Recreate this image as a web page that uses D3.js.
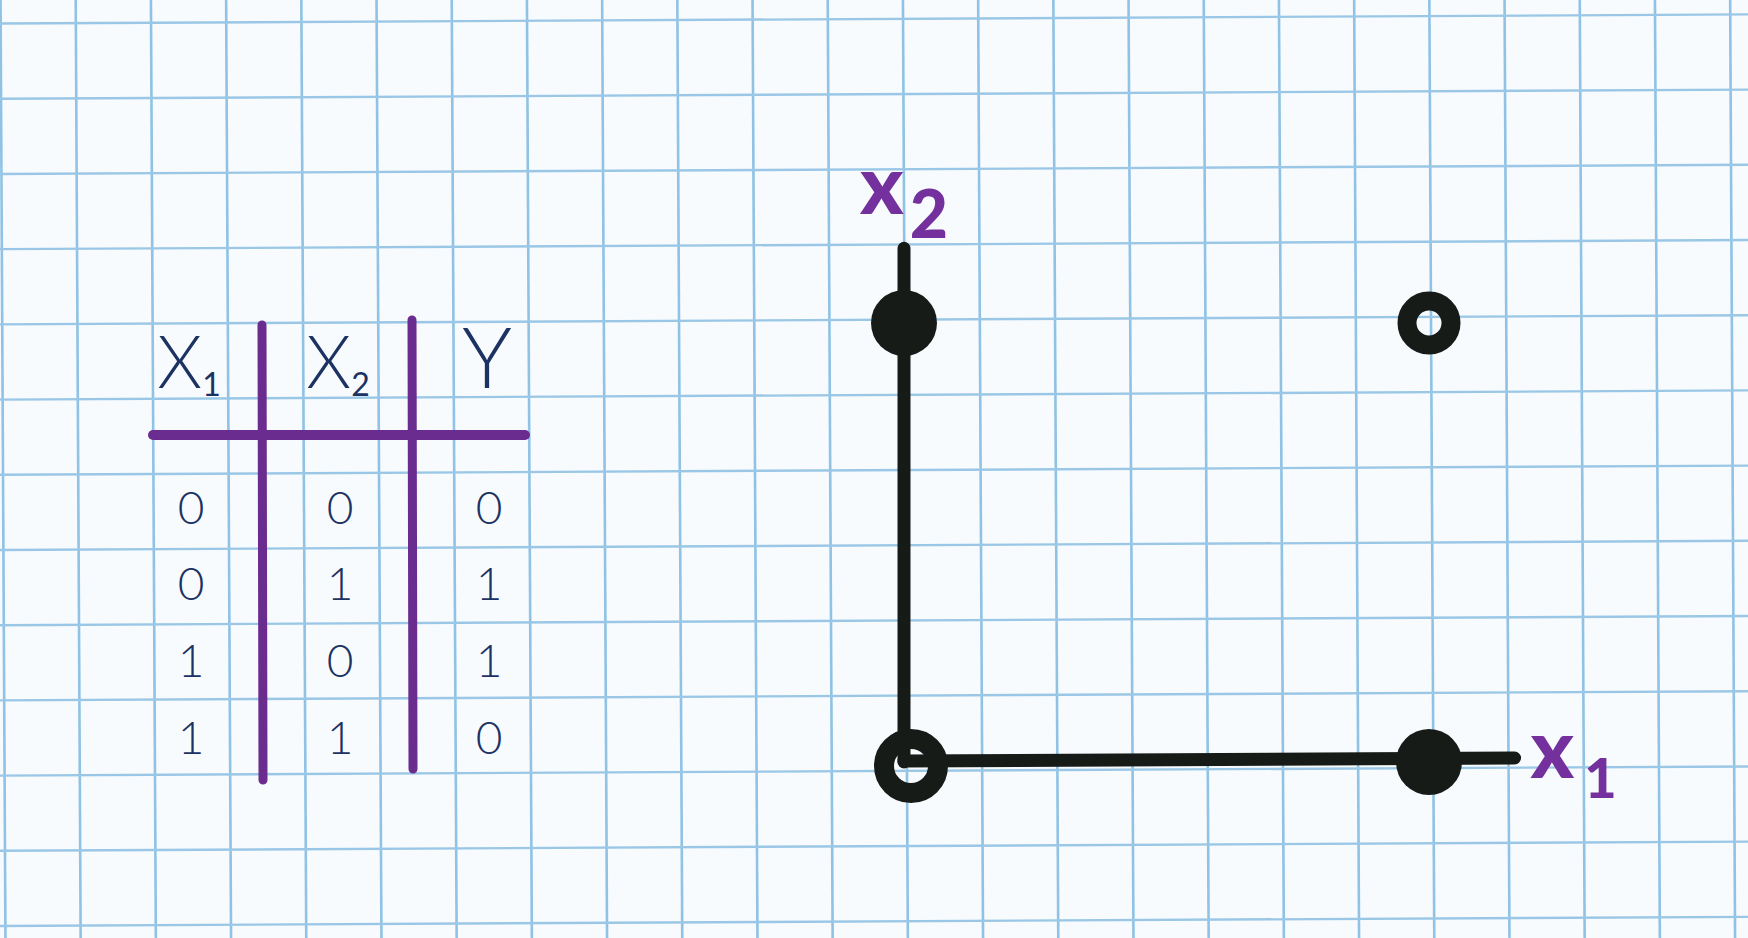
<!DOCTYPE html>
<html><head><meta charset="utf-8">
<script src="https://cdn.jsdelivr.net/npm/d3@7"></script>
<style>html,body{margin:0;padding:0;background:#f8fbfd;overflow:hidden}</style>
</head><body>
<svg id="chart" width="1748" height="938"></svg>
<script>
// ---- data ----
const headerLabels = ["X", "X", "Y"];
const headerSubs = ["1", "2", ""];
const x1Values = [0, 0, 1, 1];
const x2Values = [0, 1, 0, 1];
const yValues  = [0, 1, 1, 0];
const axisLabelBase = ["x", "x"];
const axisLabelSub = ["1", "2"];

// ---- setup ----
const W = 1748, H = 938;
const svg = d3.select("#chart");
const ink = "#161b18", blueInk = "#1c3262", purple = "#6a2c8f", labelPurple = "#74309c";

svg.append("rect").attr("width", W).attr("height", H).attr("fill", "#f8fbfd");

// graph-paper grid (slightly rotated like the scanned sheet)
const grid = svg.append("g").attr("transform", `rotate(-0.3 ${W/2} ${H/2})`);
const step = 75.2;
grid.selectAll("line.v").data(d3.range(-1, 25)).join("line")
  .attr("x1", d => 3 + d * step).attr("x2", d => 3 + d * step)
  .attr("y1", -40).attr("y2", H + 40)
  .attr("stroke", "#8fc2e5").attr("stroke-width", 2.6);
grid.selectAll("line.h").data(d3.range(-1, 14)).join("line")
  .attr("y1", d => 19 + d * step).attr("y2", d => 19 + d * step)
  .attr("x1", -40).attr("x2", W + 40)
  .attr("stroke", "#9ac7e6").attr("stroke-width", 2.4);

// ---- truth table ----
const rows = d3.range(x1Values.length);
const colScale = d3.scalePoint().domain([0, 1, 2]).range([191, 489]);
const rowScale = d3.scalePoint().domain(rows).range([507, 737]);
const tableCols = [x1Values, x2Values, yValues];

const tbl = svg.append("g");
// purple rules
tbl.append("line").attr("x1", 153).attr("x2", 525).attr("y1", 435).attr("y2", 435)
  .attr("stroke", purple).attr("stroke-width", 10).attr("stroke-linecap", "round");
[[262, 325, 780], [412, 320, 769]].forEach(([x, y1, y2]) => {
  tbl.append("line").attr("x1", x).attr("x2", x + 1).attr("y1", y1).attr("y2", y2)
    .attr("stroke", purple).attr("stroke-width", 9).attr("stroke-linecap", "round");
});

// headers
const hdr = tbl.selectAll("text.hdr").data(headerLabels).join("text")
  .attr("class", "hdr")
  .attr("x", (d, i) => colScale(i) - 2)
  .attr("y", 388)
  .attr("text-anchor", "middle")
  .attr("font-family", "Lato, 'Open Sans', sans-serif")
  .attr("font-weight", 300)
  .attr("font-size", (d, i) => i === 2 ? 84 : 72)
  .attr("fill", blueInk);
hdr.append("tspan").text(d => d);
hdr.append("tspan").text((d, i) => headerSubs[i])
  .attr("font-size", 32).attr("dy", 8).attr("font-weight", 400);

// cells
tableCols.forEach((col, ci) => {
  tbl.selectAll(`text.c${ci}`).data(col).join("text")
    .attr("class", `c${ci}`)
    .attr("x", colScale(ci))
    .attr("y", (d, ri) => rowScale(ri))
    .attr("dy", "0.36em")
    .attr("text-anchor", "middle")
    .attr("font-family", "Lato, 'Open Sans', sans-serif")
    .attr("font-weight", 300)
    .attr("font-size", 46)
    .attr("fill", blueInk)
    .text(d => d);
});

// ---- XOR scatter ----
const xScale = d3.scaleLinear().domain([0, 1]).range([904, 1429]);
const yScale = d3.scaleLinear().domain([0, 1]).range([762, 323]);
const plot = svg.append("g");

plot.append("line")
  .attr("x1", xScale(0)).attr("x2", xScale(0))
  .attr("y1", yScale(0)).attr("y2", yScale(1.17))
  .attr("stroke", ink).attr("stroke-width", 13).attr("stroke-linecap", "round");
plot.append("line")
  .attr("x1", xScale(0)).attr("x2", xScale(1.163))
  .attr("y1", yScale(0) - 1).attr("y2", yScale(0) - 4)
  .attr("stroke", ink).attr("stroke-width", 13).attr("stroke-linecap", "round");

const pts = rows.map(i => ({x: x1Values[i], y: x2Values[i], c: yValues[i]}));
plot.selectAll("circle.pt").data(pts).join("circle")
  .attr("class", "pt")
  .attr("cx", d => xScale(d.x) + (d.c === 0 && d.x === 0 ? 7 : 0))
  .attr("cy", d => yScale(d.y) + (d.c === 0 && d.x === 0 ? 4 : 0))
  .attr("r", d => d.c === 1 ? 33 : (d.x === 0 ? 27 : 22))
  .attr("fill", d => d.c === 1 ? ink : "none")
  .attr("stroke", ink)
  .attr("stroke-width", d => d.c === 1 ? 0 : (d.x === 0 ? 20 : 19));

// axis labels
const lab = plot.selectAll("text.ax").data(axisLabelBase).join("text")
  .attr("class", "ax")
  .attr("x", (d, i) => i === 0 ? xScale(1.163) + 16 : xScale(0) - 44)
  .attr("y", (d, i) => i === 0 ? yScale(0) + 16 : yScale(1.17) - 34)
  .attr("font-family", "Lato, sans-serif")
  .attr("font-weight", 900)
  .attr("font-size", 82)
  .attr("fill", labelPurple);
lab.append("tspan").text(d => d);
lab.append("tspan").text((d, i) => axisLabelSub[i])
  .attr("font-size", (d, i) => i === 0 ? 56 : 66)
  .attr("dx", (d, i) => i === 0 ? 10 : 6)
  .attr("dy", (d, i) => i === 0 ? 20 : 24);
</script>
</body></html>
